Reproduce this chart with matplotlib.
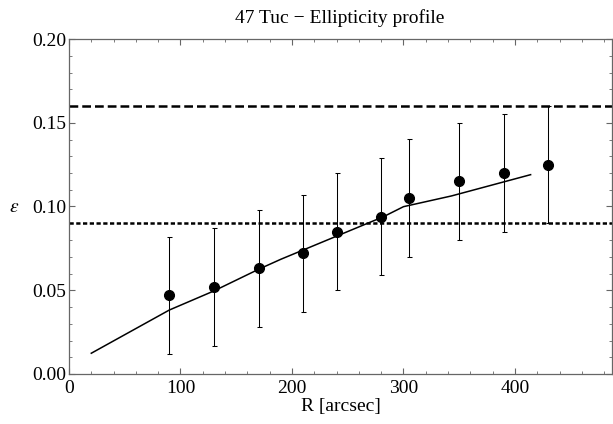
import matplotlib
matplotlib.use("Agg")
import matplotlib.pyplot as plt
from matplotlib.ticker import MultipleLocator, FormatStrFormatter

plt.rcParams['font.family'] = ['Liberation Serif', 'DejaVu Serif']
plt.rcParams['mathtext.fontset'] = 'stix'

# data points
R = [90, 130, 170, 210, 240, 280, 305, 350, 390, 430]
eps = [0.047, 0.052, 0.063, 0.072, 0.085, 0.094, 0.105, 0.115, 0.120, 0.125]
err = [0.035] * 10

# model line
R_line = [20, 90, 130, 170, 190, 240, 282, 300, 343, 414]
eps_line = [0.0124, 0.0382, 0.0496, 0.0625, 0.0685, 0.0823, 0.0939, 0.0999, 0.1063, 0.1190]

h_dashed = 0.16
h_dotted = 0.09

W, H = 613, 424
fig = plt.figure(figsize=(W/100, H/100), dpi=100)
ax = fig.add_axes([69/W, 1-374/H, (612-69)/W, (374-39)/H])

ax.axhline(h_dashed, color='black', lw=1.8, linestyle=(0, (3.5, 1.6)))
ax.axhline(h_dotted, color='black', lw=1.8, linestyle=(0, (1.7, 1.0)))
ax.plot(R_line, eps_line, color='black', lw=1.1)
ax.errorbar(R, eps, yerr=err, fmt='o', color='black', ms=7, ecolor='black',
            elinewidth=0.75, capsize=1.8, capthick=0.75)

ax.set_xlim(0, 487)
ax.set_ylim(0, 0.20)
ax.xaxis.set_major_locator(MultipleLocator(100))
ax.xaxis.set_minor_locator(MultipleLocator(20))
ax.yaxis.set_major_locator(MultipleLocator(0.05))
ax.yaxis.set_minor_locator(MultipleLocator(0.01))
ax.yaxis.set_major_formatter(FormatStrFormatter('%.2f'))

for s in ax.spines.values():
    s.set_color('#666666')
    s.set_linewidth(0.9)
ax.tick_params(which='both', direction='in', top=True, right=True, color='#666666',
               labelsize=14)
ax.tick_params(which='major', length=4.5, width=0.8)
ax.tick_params(which='minor', length=2.5, width=0.6)
ax.tick_params(axis='y', pad=2)
ax.tick_params(axis='x', pad=4.5)

fig.text(340/W, 1-23/H, '47 Tuc \u2212 Ellipticity profile', fontsize=14,
         ha='center', va='baseline')
fig.text(341/W, 1-411/H, 'R [arcsec]', fontsize=14, ha='center', va='baseline')
fig.text(14.5/W, 1-207/H, r'$\varepsilon$', fontsize=14, ha='center', va='center')

fig.savefig('out.png', dpi=100)
